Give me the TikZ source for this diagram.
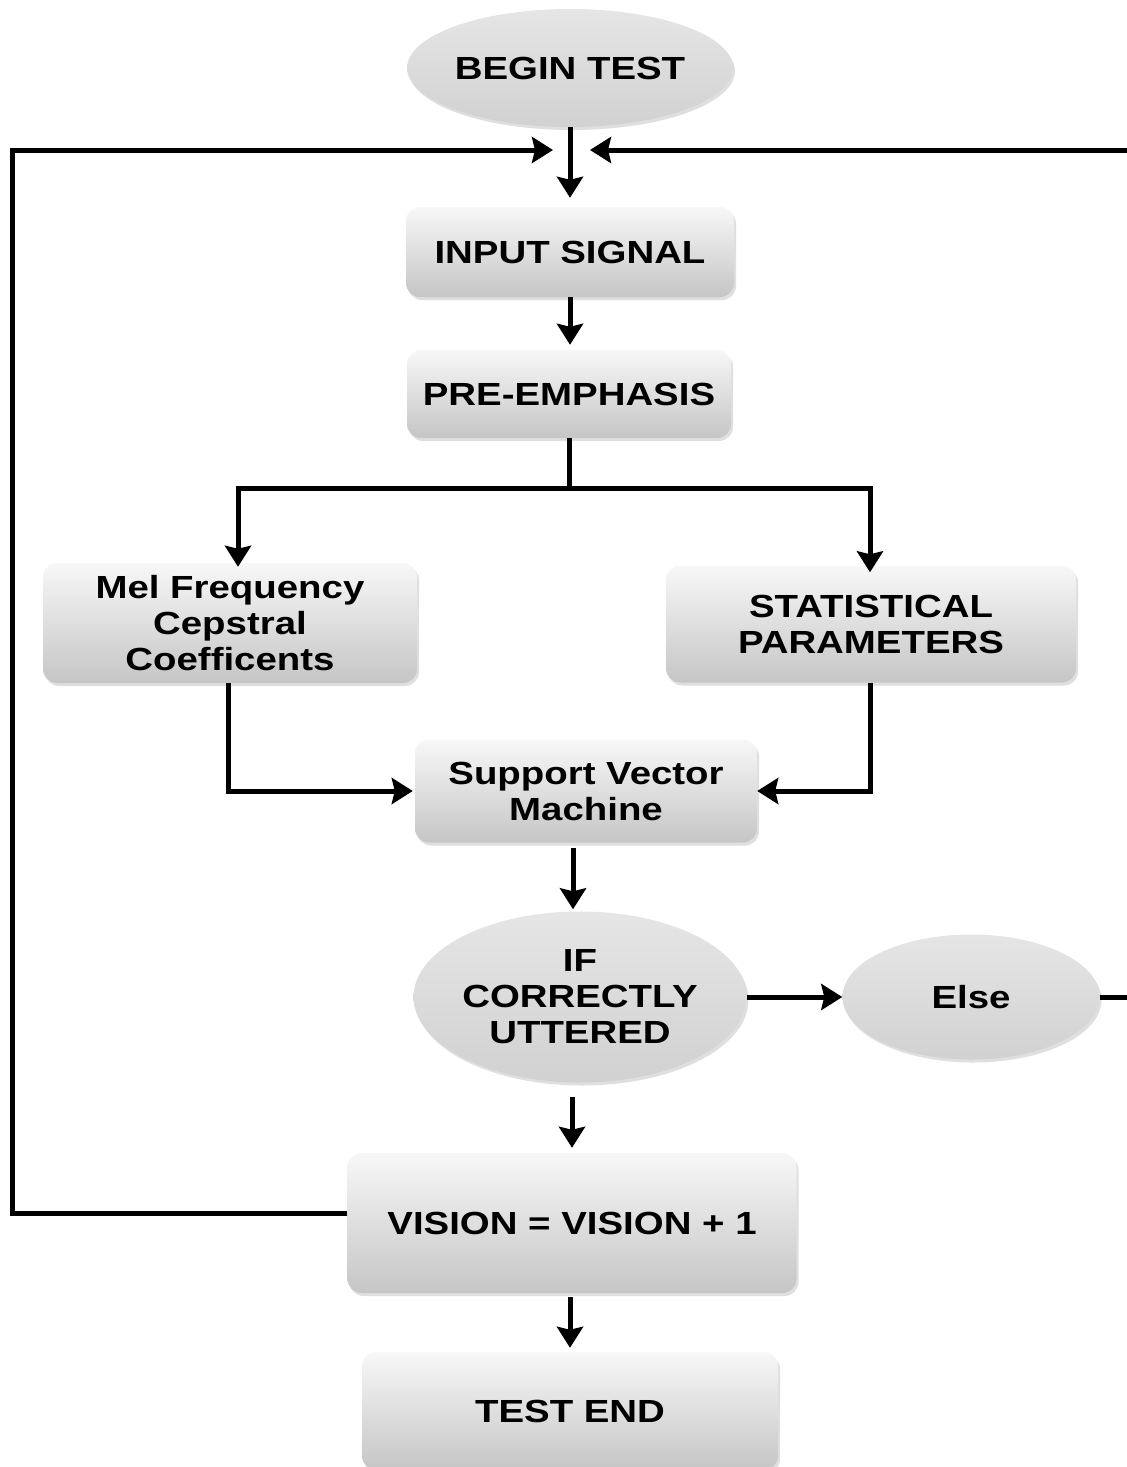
\documentclass[tikz,border=0pt]{standalone}
\usepackage{fontspec}
\setmainfont{Liberation Sans}[FakeStretch=1.2]
\usetikzlibrary{arrows.meta,shapes.geometric,shadows}
\begin{document}
\begin{tikzpicture}[x=1pt,y=-1pt,
  lbl/.style={font=\fontsize{32}{36}\selectfont\bfseries, text=black, align=center, inner sep=0pt},
  box/.style={lbl, rectangle, rounded corners=14pt, top color=gray!6, bottom color=gray!45, draw=none,
    drop shadow={shadow xshift=2pt, shadow yshift=-3pt, fill=gray!55, opacity=0.45}},
  oval/.style={lbl, ellipse, top color=gray!20, bottom color=gray!36, draw=none,
    drop shadow={shadow xshift=2pt, shadow yshift=-3pt, fill=gray!55, opacity=0.45}},
  conn/.style={line width=5pt, black},
  arr/.style={conn, -{Stealth[length=21pt,width=26pt,inset=3pt]}},
]
\useasboundingbox (0,0) rectangle (1127,1467);
\clip (0,0) rectangle (1127,1467);

% nodes
\node[oval, minimum width=310pt, minimum height=118pt] (begin) at (570,68) {BEGIN TEST};
\node[box, minimum width=328pt, minimum height=90pt] (input) at (570,252) {INPUT SIGNAL};
\node[box, minimum width=324pt, minimum height=88pt] (pre) at (569,394) {PRE-EMPHASIS};
\node[box, minimum width=374pt, minimum height=120pt] (mfcc) at (230,623) {Mel Frequency\\Cepstral\\Coefficents};
\node[box, minimum width=410pt, minimum height=117pt] (stat) at (871,624) {STATISTICAL\\PARAMETERS};
\node[box, minimum width=342pt, minimum height=103pt] (svm) at (586,791) {Support Vector\\Machine};
\node[oval, minimum width=330pt, minimum height=171pt] (ifc) at (580,997) {IF\\CORRECTLY\\UTTERED};
\node[oval, minimum width=257pt, minimum height=125pt] (else) at (971,997) {Else};
\node[box, minimum width=449pt, minimum height=140pt] (vision) at (572,1223) {VISION = VISION + 1};
\node[box, minimum width=416pt, minimum height=118pt] (tend) at (570,1411) {TEST END};

% helper coordinates
\coordinate (jl) at (553,150);
\coordinate (jr) at (590,150);
\coordinate (lx) at (12,150);
\coordinate (rx) at (1145,150);
\coordinate (split) at (569,488);
\coordinate (c573) at (573,0);
\coordinate (c572) at (572,0);
\coordinate (c570) at (570,0);

% connectors
\draw[arr, shorten >=9pt] (begin.south) -- (input.north);
\draw[arr] ([yshift=10pt]vision.west) -| (lx) -- (jl);
\draw[arr] (else.east) -| (rx) -- (jr);
\draw[arr, shorten >=5pt] (input.south) -- (pre.north -| input.south);
\draw[conn] (pre.south) -- (split);
\draw[arr, shorten >=-4pt] (split) -| ([xshift=8pt]mfcc.north);
\draw[arr, shorten >=-7pt] (split) -| ([xshift=-1pt]stat.north);
\draw[arr, shorten >=2pt] ([xshift=-2pt]mfcc.south) |- (svm.west);
\draw[arr] ([xshift=-1pt]stat.south) |- (svm.east);
\draw[arr, shorten <=5pt, shorten >=2pt] (svm.south -| c573) -- (ifc.north -| c573);
\draw[arr] (ifc.east) -- (else.west);
\draw[arr, shorten <=14pt, shorten >=5pt] (ifc.south -| c572) -- (vision.north -| c572);
\draw[arr, shorten <=4pt, shorten >=4pt] (vision.south -| c570) -- (tend.north -| c570);
\end{tikzpicture}
\end{document}
